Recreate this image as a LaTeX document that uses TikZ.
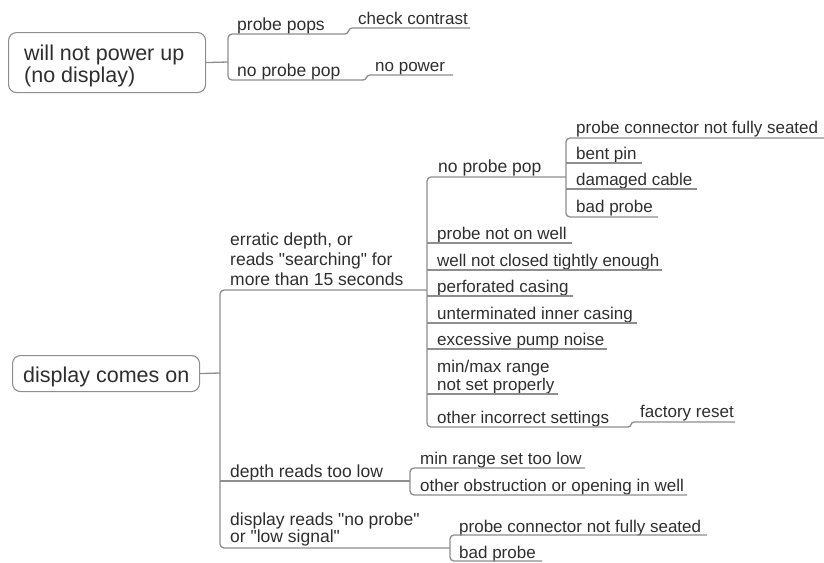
\documentclass[tikz,border=0pt]{standalone}
\usepackage{fontspec}
\setmainfont{Liberation Sans}
\definecolor{ln}{HTML}{8E8E8E}
\definecolor{tx}{HTML}{2E2E2E}
\newcommand{\dq}{\textquotedbl}
\begin{document}
\begin{tikzpicture}[x=1pt,y=-1pt,
  lbl/.style={anchor=base west, inner sep=0pt, text=tx, font=\fontsize{17.5}{20}\selectfont},
  leaf/.style={lbl, font=\fontsize{17}{20}\selectfont},
  rootlbl/.style={anchor=base west, inner sep=0pt, text=tx, font=\fontsize{21.5}{24}\selectfont},
  rootbox/.style={draw=ln, line width=1.1pt, rounded corners=8pt, anchor=north west, inner sep=0pt},
  ul/.style={draw=ln, line width=1.3pt},
  spine/.style={ul, rounded corners=4pt}]
\useasboundingbox (0,0) rectangle (824,562);

% ---------- tree 1 ----------
\node[rootbox, minimum width=197pt, minimum height=60pt] (r1) at (8,32) {};
\node[rootlbl] (r1a) at (24,60) {will not power up};
\node[rootlbl] (r1b) at (24,82) {(no display)};

\node[lbl] (pp) at (237,30) {probe pops};
\node[leaf] (cc) at (358,24) {check contrast};
\node[lbl] (npp1) at (237,76) {no probe pop};
\node[leaf] (np) at (375,71) {no power};

\draw[ul] (r1.east) -- (228,62);
\draw[spine] (345,34) -- (228,34) -- (228,80) -- (363,80);
\draw[ul] (345,34) .. controls (349,34) and (348,28) .. (352,28) -- (470,28);
\draw[ul] (363,80) .. controls (367,80) and (366,75) .. (370,75) -- (453,75);

% ---------- tree 2 ----------
\node[rootbox, minimum width=187pt, minimum height=36pt] (r2) at (12,355) {};
\node[rootlbl] (r2a) at (23,382) {display comes on};

\node[lbl] (er1) at (230,245) {erratic depth, or};
\node[lbl] (er2) at (230,265) {reads \dq searching\dq{} for};
\node[lbl] (er3) at (230,285) {more than 15 seconds};
\node[lbl] (dl) at (230,477) {depth reads too low};
\node[lbl] (dr1) at (230,525) {display reads \dq no probe\dq};
\node[lbl] (dr2) at (230,542) {or \dq low signal\dq};

\draw[ul] (r2.east) -- (220,373);
\draw[spine] (427,290) -- (220,290) -- (220,548) -- (450,548);
\draw[ul] (220,481) -- (410,481);

% erratic children
\node[lbl] (npp2) at (438,172) {no probe pop};
\node[leaf] (pnw) at (437,239) {probe not on well};
\node[leaf] (wnc) at (437,266) {well not closed tightly enough};
\node[leaf] (pc) at (437,292) {perforated casing};
\node[leaf] (uic) at (437,319) {unterminated inner casing};
\node[leaf] (epn) at (437,345) {excessive pump noise};
\node[leaf] (mm1) at (437,372) {min/max range};
\node[leaf] (mm2) at (437,390) {not set properly};
\node[leaf] (ois) at (437,423) {other incorrect settings};
\node[leaf] (fr) at (640,417) {factory reset};

\draw[spine] (566,177) -- (427,177) -- (427,427) -- (628,427);
\draw[ul] (427,243) -- (572,243);
\draw[ul] (427,270) -- (662,270);
\draw[ul] (427,296) -- (573,296);
\draw[ul] (427,323) -- (637,323);
\draw[ul] (427,349) -- (607,349);
\draw[ul] (427,394) -- (558,394);
\draw[ul] (628,427) .. controls (632,427) and (630,422) .. (634,422) -- (735,422);

% no probe pop children
\node[leaf] (pcs1) at (576,133) {probe connector not fully seated};
\node[leaf] (bp1) at (576,159) {bent pin};
\node[leaf] (dc) at (576,185) {damaged cable};
\node[leaf] (bpr1) at (576,212) {bad probe};
\draw[spine] (824,138) -- (566,138) -- (566,217) -- (658,217);
\draw[ul] (566,163) -- (642,163);
\draw[ul] (566,189) -- (697,189);

% depth reads too low children
\node[leaf] (mr) at (420,464) {min range set too low};
\node[leaf] (oo) at (420,491) {other obstruction or opening in well};
\draw[spine] (585,468) -- (410,468) -- (410,495) -- (687,495);

% display reads children
\node[leaf] (pcs2) at (459,532) {probe connector not fully seated};
\node[leaf] (bpr2) at (459,558) {bad probe};
\draw[spine] (707,535) -- (450,535) -- (450,561) -- (542,561);
\end{tikzpicture}
\end{document}
